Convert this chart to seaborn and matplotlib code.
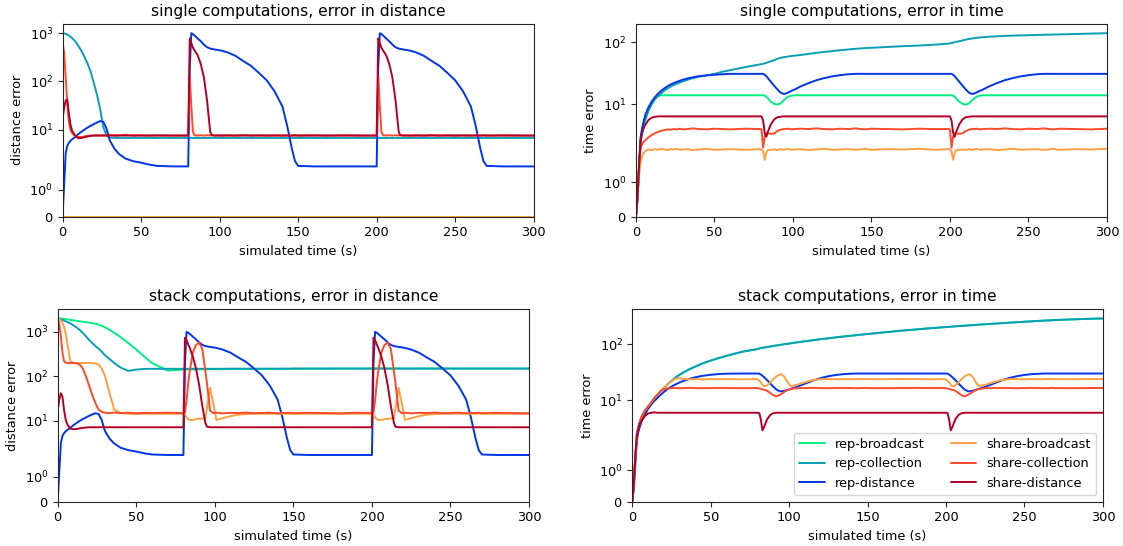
import matplotlib
matplotlib.use("Agg")
import matplotlib.pyplot as plt
import pandas as pd
import seaborn as sns

# shared time grid (s), split into three stretches around the two restarts
t_start = [0, 1, 2, 3, 4, 5, 6, 8, 10, 12, 14, 16, 18, 20, 22, 24, 26, 28, 30, 33, 36, 40, 45, 50, 55, 60, 70, 79]
t_mid = [80, 81, 82, 83, 84, 86, 88, 90, 92, 94, 95, 97, 99, 101, 105, 110, 115, 120, 125, 130, 135, 140,
         143, 146, 148, 150, 160, 170, 180, 190, 199]
t_end = [200, 201, 202, 203, 204, 206, 208, 210, 212, 214, 215, 217, 219, 221, 225, 230, 235, 240, 245, 250,
         255, 260, 263, 266, 268, 270, 280, 290, 300]
sim_time = t_start + t_mid + t_end

series_names = ["rep-broadcast", "rep-collection", "rep-distance",
                "share-broadcast", "share-collection", "share-distance"]
series_colors = ["#00f080", "#0a9fb5", "#0035e8", "#ffa040", "#fc4a2a", "#b20026"]

# ---- single computations, error in distance
tl_rep_broadcast = (
    [0, 0, 0, 0, 0, 0, 0, 0, 0, 0, 0, 0, 0, 0, 0, 0, 0, 0, 0, 0, 0, 0, 0, 0, 0, 0, 0, 0] +
    [0, 0, 0, 0, 0, 0, 0, 0, 0, 0, 0, 0, 0, 0, 0, 0, 0, 0, 0, 0, 0, 0, 0, 0, 0, 0, 0, 0, 0, 0, 0] +
    [0, 0, 0, 0, 0, 0, 0, 0, 0, 0, 0, 0, 0, 0, 0, 0, 0, 0, 0, 0, 0, 0, 0, 0, 0, 0, 0, 0, 0])
tl_rep_collection = (
    [1000, 990, 970, 940, 900, 850, 790, 680, 550, 430, 320, 230, 155, 90, 52, 26, 11, 7.5, 6.8, 6.7,
     6.7, 6.7, 6.7, 6.7, 6.7, 6.7, 6.7, 6.7] +
    [6.7, 6.7, 6.7, 6.7, 6.7, 6.7, 6.7, 6.7, 6.7, 6.7, 6.7, 6.7, 6.7, 6.7, 6.7, 6.7, 6.7, 6.7, 6.7, 6.7,
     6.7, 6.7, 6.7, 6.7, 6.7, 6.7, 6.7, 6.7, 6.7, 6.7, 6.7] +
    [6.7, 6.7, 6.7, 6.7, 6.7, 6.7, 6.7, 6.7, 6.7, 6.7, 6.7, 6.7, 6.7, 6.7, 6.7, 6.7, 6.7, 6.7, 6.7, 6.7,
     6.7, 6.7, 6.7, 6.7, 6.7, 6.7, 6.7, 6.7, 6.7])
tl_rep_distance = (
    [0, 1.2, 3.2, 4.6, 5.3, 5.8, 6.2, 7.0, 8.0, 9.0, 10.0, 11.0, 12.0, 13.0, 14.0, 15.0, 14.5, 10.5, 6.0,
     4.0, 3.1, 2.5, 2.2, 2.05, 1.95, 1.9, 1.88, 1.88] +
    [1.88, 200, 1000, 960, 900, 780, 680, 580, 510, 480, 472, 458, 448, 436, 400, 340, 265, 210, 150, 105,
     62, 30, 12, 4, 2.2, 1.9, 1.88, 1.88, 1.88, 1.88, 1.88] +
    [1.88, 200, 1000, 960, 900, 780, 680, 580, 510, 480, 472, 458, 448, 436, 400, 340, 265, 210, 150, 105,
     62, 30, 12, 4, 2.2, 1.9, 1.88, 1.88, 1.88])
tl_share_broadcast = (
    [0, 0, 0, 0, 0, 0, 0, 0, 0, 0, 0, 0, 0, 0, 0, 0, 0, 0, 0, 0, 0, 0, 0, 0, 0, 0, 0, 0] +
    [0, 0, 0, 0, 0, 0, 0, 0, 0, 0, 0, 0, 0, 0, 0, 0, 0, 0, 0, 0, 0, 0, 0, 0, 0, 0, 0, 0, 0, 0, 0] +
    [0, 0, 0, 0, 0, 0, 0, 0, 0, 0, 0, 0, 0, 0, 0, 0, 0, 0, 0, 0, 0, 0, 0, 0, 0, 0, 0, 0, 0])
tl_share_collection = (
    [650, 400, 120, 35, 15, 10, 8.5, 7.3, 7.0, 7.0, 7.2, 7.4, 7.5, 7.5, 7.6, 7.5, 7.6, 7.5, 7.7, 7.5,
     7.6, 7.8, 7.5, 7.6, 7.5, 7.6, 7.5, 7.5] +
    [7.5, 130, 30, 9, 7.6, 7.5, 7.6, 7.5, 7.6, 7.5, 7.7, 7.5, 7.6, 7.5, 7.6, 7.5, 7.7, 7.5, 7.6, 7.5,
     7.6, 7.5, 7.6, 7.5, 7.7, 7.5, 7.6, 7.5, 7.6, 7.5, 7.5] +
    [7.5, 130, 30, 9, 7.6, 7.5, 7.6, 7.5, 7.6, 7.5, 7.7, 7.5, 7.6, 7.5, 7.6, 7.5, 7.7, 7.5, 7.6, 7.5,
     7.6, 7.5, 7.6, 7.5, 7.7, 7.5, 7.6, 7.5, 7.5])
tl_share_distance = (
    [17, 28, 40, 42, 22, 13, 9.5, 7.5, 6.6, 6.7, 6.9, 7.2, 7.4, 7.5, 7.5, 7.5, 7.5, 7.5, 7.5, 7.5,
     7.5, 7.5, 7.5, 7.5, 7.5, 7.5, 7.5, 7.5] +
    [7.5, 780, 620, 500, 440, 350, 230, 120, 40, 9, 7.6, 7.5, 7.5, 7.5, 7.5, 7.5, 7.5, 7.5, 7.5, 7.5,
     7.5, 7.5, 7.5, 7.5, 7.5, 7.5, 7.5, 7.5, 7.5, 7.5, 7.5] +
    [7.5, 780, 620, 500, 440, 350, 230, 120, 40, 9, 7.6, 7.5, 7.5, 7.5, 7.5, 7.5, 7.5, 7.5, 7.5, 7.5,
     7.5, 7.5, 7.5, 7.5, 7.5, 7.5, 7.5, 7.5, 7.5])

# ---- single computations, error in time
tr_rep_broadcast = (
    [0, 0.5, 1.5, 2.5, 3.5, 4.5, 5.5, 8, 10.5, 12.5, 13.5, 14, 14, 14, 14, 14, 14, 14, 14, 14,
     14, 14, 14, 14, 14, 14, 14, 14] +
    [14, 14, 13.8, 13.3, 12.5, 11, 10.2, 9.9, 10.3, 11.5, 12.2, 13.3, 13.8, 14, 14, 14, 14, 14, 14, 14,
     14, 14, 14, 14, 14, 14, 14, 14, 14, 14, 14] +
    [14, 14, 13.8, 13.3, 12.5, 11, 10.2, 9.9, 10.3, 11.5, 12.2, 13.3, 13.8, 14, 14, 14, 14, 14, 14, 14,
     14, 14, 14, 14, 14, 14, 14, 14, 14])
tr_rep_collection = (
    [0, 0.5, 1.5, 2.8, 4, 5, 6, 8, 10, 12, 13.5, 15, 16.5, 18, 19.2, 20.5, 21.5, 22.5, 23.5, 25,
     26.3, 28, 29.2, 31, 33.5, 35.5, 40, 44] +
    [44.5, 45, 45.8, 46.5, 47.5, 49.5, 51.5, 54, 56, 57.5, 58, 59, 60, 61, 62.5, 65, 67.5, 70, 72, 74.5,
     76.5, 78.5, 79.5, 80.5, 81, 81.5, 84, 86.5, 88.5, 91.5, 95] +
    [96, 97, 98.5, 100, 101.5, 104, 107, 110, 113, 115, 116, 118, 119.5, 120.5, 123, 125, 126.5, 128, 129,
     130, 131, 132, 132.5, 133, 133.5, 134, 136, 138, 140])
tr_rep_distance = (
    [0, 0.5, 1.5, 3, 4.2, 5.5, 6.8, 9, 11, 13, 14.8, 16.5, 18, 19.5, 20.8, 22, 23, 24, 25, 26.2,
     27.2, 28.3, 29.3, 30, 30.5, 31, 31, 31] +
    [31, 31, 30, 28.5, 26.5, 23, 20, 17.5, 15.5, 14.7, 14.8, 15.5, 16.5, 17.3, 19.5, 22, 24.5, 26.5, 28.2,
     29.5, 30.5, 31, 31, 31, 31, 31, 31, 31, 31, 31, 31] +
    [31, 31, 30, 28.5, 26.5, 23, 20, 17.5, 15.5, 14.7, 14.8, 15.5, 16.5, 17.3, 19.5, 22, 24.5, 26.5, 28.2,
     29.5, 30.5, 31, 31, 31, 31, 31, 31, 31, 31])
tr_share_broadcast = (
    [0, 0.5, 1.2, 1.6, 1.75, 1.85, 1.9, 1.95, 1.93, 1.96, 1.94, 1.97, 1.95, 1.93, 1.96, 1.95, 1.97, 1.94,
     1.95, 1.96, 1.93, 1.95, 1.97, 1.94, 1.95, 1.96, 1.94, 1.96] +
    [1.95, 1.9, 1.65, 1.85, 1.93, 1.94, 1.95, 1.93, 1.96, 1.94, 1.95, 1.97, 1.94, 1.95, 1.96, 1.93, 1.95,
     1.97, 1.94, 1.95, 1.96, 1.94, 1.95, 1.97, 1.95, 1.94, 1.96, 1.95, 1.97, 1.94, 1.96] +
    [1.95, 1.9, 1.65, 1.85, 1.93, 1.94, 1.95, 1.93, 1.96, 1.94, 1.95, 1.97, 1.94, 1.95, 1.96, 1.93, 1.95,
     1.97, 1.94, 1.95, 1.96, 1.94, 1.95, 1.97, 1.95, 1.94, 1.96, 1.95, 1.97])
tr_share_collection = (
    [0, 0.6, 1.5, 2.0, 2.3, 2.5, 2.65, 2.95, 3.2, 3.4, 3.6, 3.75, 3.85, 3.95, 3.9, 4.0, 3.95, 4.05, 3.95,
     4.0, 4.1, 4.0, 3.95, 4.05, 4.0, 3.95, 4.05, 4.0] +
    [3.95, 2.0, 3.0, 3.4, 3.4, 3.35, 3.4, 3.7, 3.9, 4.0, 4.0, 4.05, 3.95, 4.0, 4.05, 4.0, 4.1, 4.0, 3.95,
     4.05, 4.0, 4.1, 4.0, 3.95, 4.0, 4.05, 4.0, 3.95, 4.05, 4.0, 4.0] +
    [3.95, 2.0, 3.0, 3.4, 3.4, 3.35, 3.4, 3.7, 3.9, 4.0, 4.0, 4.05, 3.95, 4.0, 4.05, 4.0, 4.1, 4.0, 3.95,
     4.05, 4.0, 4.1, 4.0, 3.95, 4.0, 4.05, 4.0, 3.95, 4.05])
tr_share_distance = (
    [0, 0.6, 1.5, 2.6, 3.5, 4.2, 4.7, 5.6, 6.1, 6.3, 6.4, 6.4, 6.4, 6.4, 6.4, 6.4, 6.4, 6.4, 6.4, 6.4,
     6.4, 6.4, 6.4, 6.4, 6.4, 6.4, 6.4, 6.4] +
    [6.4, 5.5, 3.5, 3.0, 3.6, 4.8, 5.7, 6.2, 6.3, 6.4, 6.4, 6.4, 6.4, 6.4, 6.4, 6.4, 6.4, 6.4, 6.4, 6.4,
     6.4, 6.4, 6.4, 6.4, 6.4, 6.4, 6.4, 6.4, 6.4, 6.4, 6.4] +
    [6.4, 5.5, 3.5, 3.0, 3.6, 4.8, 5.7, 6.2, 6.3, 6.4, 6.4, 6.4, 6.4, 6.4, 6.4, 6.4, 6.4, 6.4, 6.4, 6.4,
     6.4, 6.4, 6.4, 6.4, 6.4, 6.4, 6.4, 6.4, 6.4])

# ---- stack computations, error in distance
bl_rep_broadcast = (
    [2000, 1990, 1980, 1970, 1950, 1930, 1910, 1860, 1810, 1770, 1730, 1690, 1650, 1610, 1570, 1520, 1450,
     1370, 1270, 1110, 950, 760, 560, 400, 280, 200, 135, 142] +
    [143, 143, 143, 143, 143, 143, 144, 144, 144, 144, 144, 144, 145, 145, 145, 145, 146, 146, 146, 147,
     147, 147, 148, 148, 148, 148, 149, 149, 150, 150, 150] +
    [150, 150, 150, 150, 150, 150, 150, 150, 150, 150, 150, 150, 150, 150, 150, 150, 150, 150, 150, 150,
     150, 150, 150, 150, 150, 150, 150, 150, 150])
bl_rep_collection = (
    [2000, 1960, 1910, 1850, 1790, 1730, 1670, 1550, 1400, 1250, 1100, 950, 790, 660, 560, 480, 420, 360,
     300, 245, 200, 158, 133, 142, 147, 148, 148, 148] +
    [148, 148, 148, 148, 148, 148, 148, 148, 148, 148, 148, 148, 148, 148, 148, 149, 149, 149, 149, 149,
     149, 149, 149, 149, 149, 150, 150, 150, 150, 150, 150] +
    [150, 150, 150, 150, 150, 150, 150, 150, 150, 150, 150, 150, 150, 150, 150, 150, 150, 150, 150, 150,
     150, 150, 150, 150, 150, 150, 150, 150, 150])
bl_rep_distance = (
    [0, 1.2, 3.2, 4.6, 5.3, 5.8, 6.2, 7.0, 8.0, 9.0, 10.0, 11.0, 12.0, 13.0, 14.0, 14.8, 14.3, 10.5, 6.0,
     4.0, 3.1, 2.5, 2.2, 2.05, 1.95, 1.9, 1.88, 1.88] +
    [1.88, 200, 1000, 960, 900, 780, 680, 580, 510, 480, 472, 458, 448, 436, 400, 340, 265, 210, 150, 105,
     62, 30, 12, 4, 2.2, 1.9, 1.88, 1.88, 1.88, 1.88, 1.88] +
    [1.88, 200, 1000, 960, 900, 780, 680, 580, 510, 480, 472, 458, 448, 436, 400, 340, 265, 210, 150, 105,
     62, 30, 12, 4, 2.2, 1.9, 1.88, 1.88, 1.88])
bl_share_broadcast = (
    [2000, 1950, 1800, 1600, 1300, 950, 600, 220, 200, 200, 200, 200, 200, 200, 198, 195, 185, 150, 105, 42,
     18, 15, 14.5, 14.5, 14.5, 14.5, 14.5, 14.5] +
    [14.5, 14, 12, 11, 10.5, 10.5, 11, 11.2, 11.3, 11.5, 20, 55, 25, 10.5, 11.5, 12.8, 13.8, 14.2, 14.5,
     14.5, 14.5, 14.5, 14.5, 14.5, 14.5, 14.5, 14.5, 14.5, 14.5, 14.5, 14.5] +
    [14.5, 14, 12, 11, 10.5, 10.5, 11, 11.2, 11.3, 11.5, 20, 55, 25, 10.5, 11.5, 12.8, 13.8, 14.2, 14.5,
     14.5, 14.5, 14.5, 14.5, 14.5, 14.5, 14.5, 14.5, 14.5, 14.5])
bl_share_collection = (
    [2000, 1500, 800, 350, 220, 205, 200, 200, 200, 196, 185, 150, 100, 62, 38, 25, 18, 16, 15.2, 15,
     15.4, 15, 15.3, 14.8, 15.2, 15, 15.3, 15] +
    [15, 15.5, 29, 67, 130, 340, 510, 570, 420, 130, 70, 17, 15, 15.3, 14.8, 15.2, 15, 15.4, 14.9, 15.1,
     15.3, 14.8, 15.2, 15, 15.3, 14.9, 15.2, 15, 14.8, 15.3, 15] +
    [15, 15.5, 29, 67, 130, 340, 510, 570, 420, 130, 70, 17, 15, 15.3, 14.8, 15.2, 15, 15.4, 14.9, 15.1,
     15.3, 14.8, 15.2, 15, 15.3, 14.9, 15.2, 15, 14.8])
bl_share_distance = (
    [17, 30, 42, 35, 18, 11, 8.5, 6.7, 6.5, 6.6, 6.8, 7.0, 7.1, 7.2, 7.2, 7.2, 7.2, 7.2, 7.2, 7.2,
     7.2, 7.2, 7.2, 7.2, 7.2, 7.2, 7.2, 7.2] +
    [7.2, 740, 650, 530, 440, 280, 150, 65, 22, 9, 7.4, 7.2, 7.2, 7.2, 7.2, 7.2, 7.2, 7.2, 7.2, 7.2,
     7.2, 7.2, 7.2, 7.2, 7.2, 7.2, 7.2, 7.2, 7.2, 7.2, 7.2] +
    [7.2, 740, 650, 530, 440, 280, 150, 65, 22, 9, 7.4, 7.2, 7.2, 7.2, 7.2, 7.2, 7.2, 7.2, 7.2, 7.2,
     7.2, 7.2, 7.2, 7.2, 7.2, 7.2, 7.2, 7.2, 7.2])

# ---- stack computations, error in time
br_rep_broadcast = (
    [0, 0.6, 1.5, 2.5, 3.4, 4.3, 5.1, 6.5, 7.7, 9, 10.8, 12.6, 14.5, 16.5, 18.7, 21, 23.5, 26, 28.5, 32,
     35.5, 40, 46, 51.5, 57, 62.5, 74, 82] +
    [83, 85, 86, 87, 88, 90, 92, 94, 96, 98, 99, 101, 103, 105, 109, 114, 119, 124, 129, 134, 139, 144,
     147, 150, 152, 154, 164, 175, 185, 195, 204] +
    [205, 206, 207, 208, 209, 211, 213, 215, 217, 219, 220, 222, 224, 226, 230, 235, 240, 245, 250, 255,
     260, 265, 268, 270, 272, 274, 281, 287, 292])
br_rep_collection = (
    [0, 0.6, 1.5, 2.5, 3.4, 4.3, 5.1, 6.5, 7.7, 9, 10.8, 12.6, 14.5, 16.5, 18.7, 21, 23.5, 26, 28.5, 32,
     35.5, 40, 46, 51.5, 57, 62.5, 74, 82] +
    [83, 85, 86, 87, 88, 90, 92, 94, 96, 98, 99, 101, 103, 105, 109, 114, 119, 124, 129, 134, 139, 144,
     147, 150, 152, 154, 164, 175, 185, 195, 204] +
    [205, 206, 207, 208, 209, 211, 213, 215, 217, 219, 220, 222, 224, 226, 230, 235, 240, 245, 250, 255,
     260, 265, 268, 270, 272, 274, 281, 287, 292])
br_rep_distance = (
    [0, 0.4, 1.2, 2, 2.8, 3.5, 4.2, 5.5, 7, 8.3, 9.7, 11, 12.5, 14, 15.5, 17, 18.3, 19.5, 20.8, 22.5,
     24, 25.8, 27.5, 28.7, 29.5, 30, 30.2, 30.2] +
    [30.2, 30, 29, 27.5, 26, 23, 20, 17.5, 15.5, 14.6, 14.5, 14.8, 15.4, 16, 17.5, 19.8, 22.5, 25, 27,
     28.5, 29.5, 30, 30.2, 30.2, 30.2, 30.2, 30.2, 30.2, 30.2, 30.2, 30.2] +
    [30.2, 30, 29, 27.5, 26, 23, 20, 17.5, 15.5, 14.6, 14.5, 14.8, 15.4, 16, 17.5, 19.8, 22.5, 25, 27,
     28.5, 29.5, 30, 30.2, 30.2, 30.2, 30.2, 30.2, 30.2, 30.2])
br_share_broadcast = (
    [0, 0.6, 1.5, 2.5, 3.4, 4.3, 5.1, 6.5, 7.7, 9, 10.8, 12.6, 14.5, 16.5, 18.7, 21, 23, 24.5, 24.8, 24.2,
     23.8, 24, 23.7, 24, 23.8, 24, 23.8, 24] +
    [23.5, 22.5, 21, 19, 17.8, 18.5, 21, 24, 27, 29, 29.2, 26.5, 21, 18, 19, 21, 23, 24, 24, 23.8, 24,
     23.8, 24, 24.2, 23.9, 24, 23.8, 24.1, 24, 23.8, 24] +
    [23.5, 22.5, 21, 19, 17.8, 18.5, 21, 24, 27, 29, 29.2, 26.5, 21, 18, 19, 21, 23, 24, 24, 23.8, 24,
     23.8, 24, 24.2, 23.9, 24, 23.8, 24.1, 24])
br_share_collection = (
    [0, 0.6, 1.5, 2.5, 3.4, 4.3, 5.1, 6.5, 7.7, 9, 10.8, 12.6, 14.5, 15.8, 16.3, 16.5, 16.6, 16.6, 16.5,
     16.6, 16.7, 16.6, 16.5, 16.6, 16.7, 16.6, 16.5, 16.6] +
    [16.5, 16.3, 16, 15.7, 15.5, 14.8, 13.5, 12.3, 11.8, 12.5, 13, 14.2, 15.3, 16, 16.5, 16.6, 16.7, 16.6,
     16.5, 16.6, 16.7, 16.6, 16.5, 16.6, 16.7, 16.6, 16.5, 16.6, 16.7, 16.6, 16.6] +
    [16.5, 16.3, 16, 15.7, 15.5, 14.8, 13.5, 12.3, 11.8, 12.5, 13, 14.2, 15.3, 16, 16.5, 16.6, 16.7, 16.6,
     16.5, 16.6, 16.7, 16.6, 16.5, 16.6, 16.7, 16.6, 16.5, 16.6, 16.7])
br_share_distance = (
    [0, 0.6, 1.5, 2.4, 3.2, 3.9, 4.4, 5.2, 5.8, 6.0, 6.1, 6.0, 6.0, 6.0, 6.0, 6.0, 6.0, 6.0, 6.0, 6.0,
     6.0, 6.0, 6.0, 6.0, 6.0, 6.0, 6.0, 6.0] +
    [6.0, 5.9, 4.5, 2.9, 3.3, 4.6, 5.5, 5.9, 6.0, 6.0, 6.0, 6.0, 6.0, 6.0, 6.0, 6.0, 6.0, 6.0, 6.0, 6.0,
     6.0, 6.0, 6.0, 6.0, 6.0, 6.0, 6.0, 6.0, 6.0, 6.0, 6.0] +
    [6.0, 5.9, 4.5, 2.9, 3.3, 4.6, 5.5, 5.9, 6.0, 6.0, 6.0, 6.0, 6.0, 6.0, 6.0, 6.0, 6.0, 6.0, 6.0, 6.0,
     6.0, 6.0, 6.0, 6.0, 6.0, 6.0, 6.0, 6.0, 6.0])

panels = [
    ("single computations, error in distance", "distance error",
     [tl_rep_broadcast, tl_rep_collection, tl_rep_distance,
      tl_share_broadcast, tl_share_collection, tl_share_distance]),
    ("single computations, error in time", "time error",
     [tr_rep_broadcast, tr_rep_collection, tr_rep_distance,
      tr_share_broadcast, tr_share_collection, tr_share_distance]),
    ("stack computations, error in distance", "distance error",
     [bl_rep_broadcast, bl_rep_collection, bl_rep_distance,
      bl_share_broadcast, bl_share_collection, bl_share_distance]),
    ("stack computations, error in time", "time error",
     [br_rep_broadcast, br_rep_collection, br_rep_distance,
      br_share_broadcast, br_share_collection, br_share_distance]),
]

sns.set_style("ticks")
plt.rcParams["font.family"] = ["DejaVu Sans"]
plt.rcParams["font.size"] = 9.3
plt.rcParams["axes.edgecolor"] = "#262626"
plt.rcParams["text.color"] = "black"
plt.rcParams["axes.labelcolor"] = "black"
plt.rcParams["xtick.color"] = "#262626"
plt.rcParams["ytick.color"] = "#262626"
plt.rcParams["xtick.labelcolor"] = "black"
plt.rcParams["ytick.labelcolor"] = "black"
plt.rcParams["xtick.major.size"] = 3.3
plt.rcParams["ytick.major.size"] = 3.3

palette = dict(zip(series_names, series_colors))

# axes boxes in figure fractions: [left, bottom, width, height]
boxes = [
    [0.0557, 0.6031, 0.4196, 0.3529],
    [0.5663, 0.6031, 0.4194, 0.3529],
    [0.0514, 0.0815, 0.4197, 0.3520],
    [0.5630, 0.0815, 0.4191, 0.3520],
]

fig = plt.figure(figsize=(11.23, 5.46), dpi=100)

for i, ((title, ylabel, values), box) in enumerate(zip(panels, boxes)):
    ax = fig.add_axes(box)
    frames = []
    for name, vals in zip(series_names, values):
        frames.append(pd.DataFrame({"time": sim_time, "error": vals, "series": name}))
    df = pd.concat(frames, ignore_index=True)

    sns.lineplot(data=df, x="time", y="error", hue="series", hue_order=series_names,
                 palette=palette, estimator=None, errorbar=None, linewidth=1.4,
                 legend=(i == 3), ax=ax)

    ax.set_yscale("symlog")
    ax.relim()
    ax.autoscale_view()
    top = ax.get_ylim()[1]
    ax.set_ylim(0, top)
    ax.set_xlim(0, 300)
    ax.set_title(title, fontsize=11.2)
    ax.set_xlabel("simulated time (s)", fontsize=9.3)
    ax.set_ylabel(ylabel, fontsize=9.3)
    ax.tick_params(labelsize=9.3)

    if i == 3:
        sns.move_legend(ax, "lower right", ncol=2, title=None, frameon=True, fontsize=9.3)

fig.savefig("out.png", dpi=100)
